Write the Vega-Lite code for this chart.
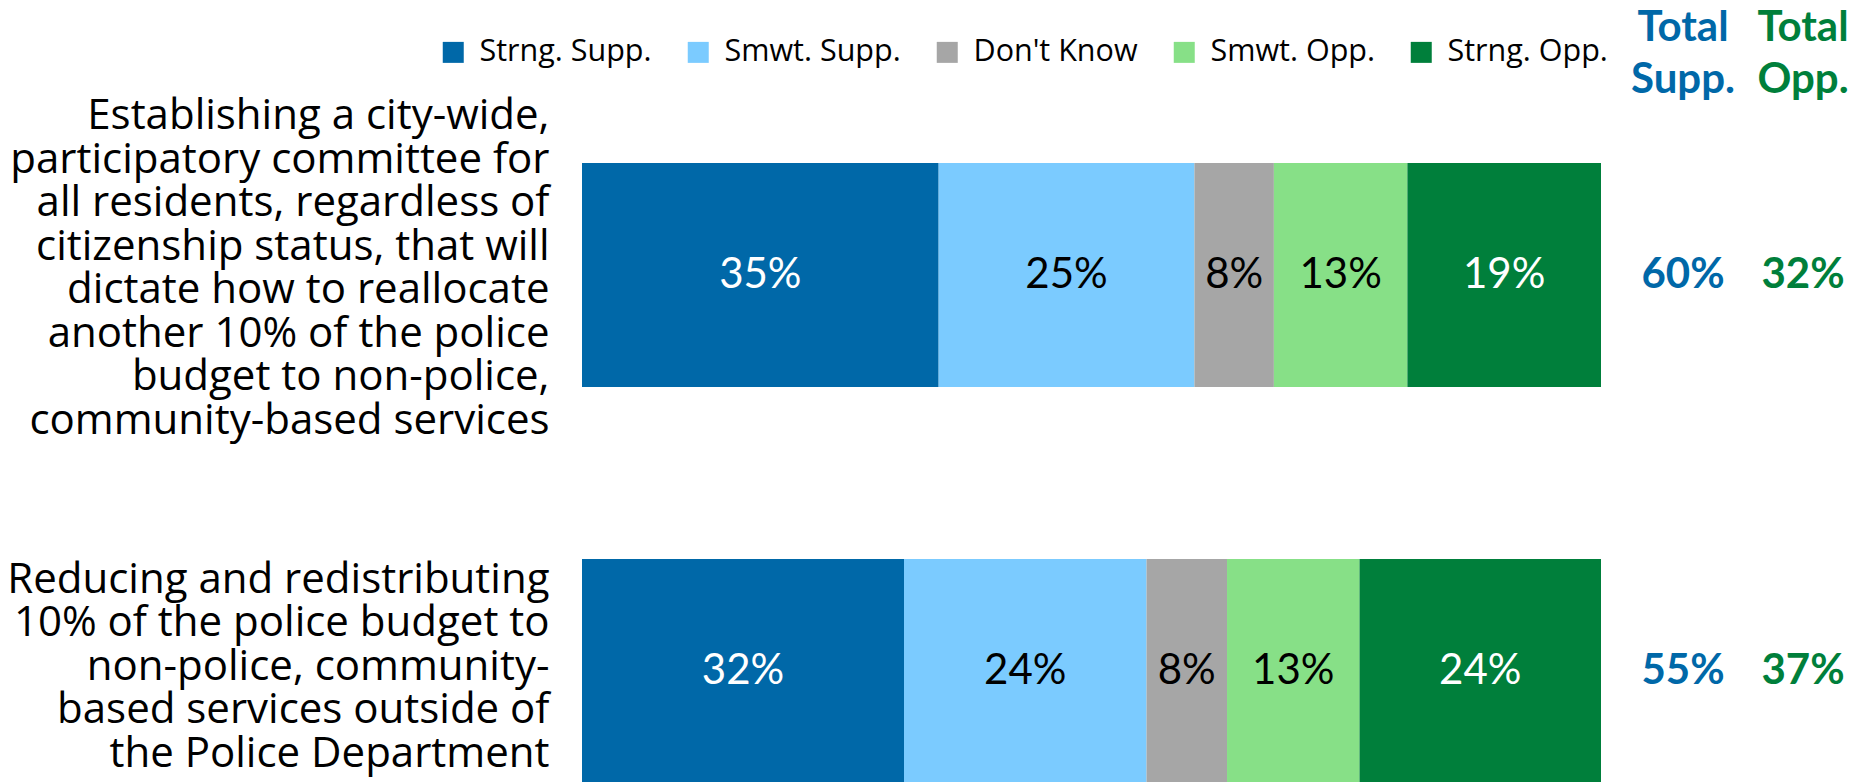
{
  "$schema": "https://vega.github.io/schema/vega-lite/v6.json",
  "padding": {"left": 6, "top": 6, "right": 0, "bottom": 0},
  "background": "white",
  "bounds": "flush",
  "spacing": 22,
  "config": {
    "view": {"stroke": null},
    "font": "Lato",
    "axis": {"grid": false, "domain": false, "ticks": false}
  },
  "resolve": {"scale": {"x": "independent", "y": "independent"}},
  "datasets": {
    "responses": [
      {"question": "Establishing a city-wide,|participatory committee for|all residents, regardless of|citizenship status, that will|dictate how to reallocate|another 10% of the police|budget to non-police,|community-based services", "response": "Strng. Supp.", "order": 1, "value": 35.0, "label": "35%"},
      {"question": "Establishing a city-wide,|participatory committee for|all residents, regardless of|citizenship status, that will|dictate how to reallocate|another 10% of the police|budget to non-police,|community-based services", "response": "Smwt. Supp.", "order": 2, "value": 25.1, "label": "25%"},
      {"question": "Establishing a city-wide,|participatory committee for|all residents, regardless of|citizenship status, that will|dictate how to reallocate|another 10% of the police|budget to non-police,|community-based services", "response": "Don't Know", "order": 3, "value": 7.8, "label": "8%"},
      {"question": "Establishing a city-wide,|participatory committee for|all residents, regardless of|citizenship status, that will|dictate how to reallocate|another 10% of the police|budget to non-police,|community-based services", "response": "Smwt. Opp.", "order": 4, "value": 13.1, "label": "13%"},
      {"question": "Establishing a city-wide,|participatory committee for|all residents, regardless of|citizenship status, that will|dictate how to reallocate|another 10% of the police|budget to non-police,|community-based services", "response": "Strng. Opp.", "order": 5, "value": 19.0, "label": "19%"},
      {"question": "Reducing and redistributing|10% of the police budget to|non-police, community-|based services outside of|the Police Department", "response": "Strng. Supp.", "order": 1, "value": 31.6, "label": "32%"},
      {"question": "Reducing and redistributing|10% of the police budget to|non-police, community-|based services outside of|the Police Department", "response": "Smwt. Supp.", "order": 2, "value": 23.8, "label": "24%"},
      {"question": "Reducing and redistributing|10% of the police budget to|non-police, community-|based services outside of|the Police Department", "response": "Don't Know", "order": 3, "value": 7.9, "label": "8%"},
      {"question": "Reducing and redistributing|10% of the police budget to|non-police, community-|based services outside of|the Police Department", "response": "Smwt. Opp.", "order": 4, "value": 13.0, "label": "13%"},
      {"question": "Reducing and redistributing|10% of the police budget to|non-police, community-|based services outside of|the Police Department", "response": "Strng. Opp.", "order": 5, "value": 23.7, "label": "24%"}
    ],
    "totals": [
      {"question": "Establishing a city-wide,|participatory committee for|all residents, regardless of|citizenship status, that will|dictate how to reallocate|another 10% of the police|budget to non-police,|community-based services", "measure": "Total Supp.", "label": "60%"},
      {"question": "Establishing a city-wide,|participatory committee for|all residents, regardless of|citizenship status, that will|dictate how to reallocate|another 10% of the police|budget to non-police,|community-based services", "measure": "Total Opp.", "label": "32%"},
      {"question": "Reducing and redistributing|10% of the police budget to|non-police, community-|based services outside of|the Police Department", "measure": "Total Supp.", "label": "55%"},
      {"question": "Reducing and redistributing|10% of the police budget to|non-police, community-|based services outside of|the Police Department", "measure": "Total Opp.", "label": "37%"}
    ]
  },
  "hconcat": [
    {
      "width": 1019,
      "height": 672,
      "data": {"name": "responses"},
      "transform": [
        {"stack": "value", "groupby": ["question"], "sort": [{"field": "order", "order": "ascending"}], "as": ["v0", "v1"]}
      ],
      "encoding": {
        "y": {
          "field": "question",
          "type": "nominal",
          "sort": null,
          "scale": {"type": "band", "paddingInner": 0.434, "paddingOuter": 0.0657, "align": 1},
          "axis": {
            "title": null,
            "labelExpr": "split(datum.label, '|')",
            "labelFont": "Open Sans",
            "labelFontSize": 42,
            "labelLineHeight": 43.5,
            "labelLimit": 0,
            "labelPadding": 33,
            "labelColor": "black",
            "labelAlign": "right",
            "labelBaseline": "middle",
            "labelOverlap": false,
            "labelOffset": {"condition": {"test": "indexof(datum.value, 'Establishing') == 0", "value": -159}, "value": -91}
          }
        }
      },
      "layer": [
        {
          "mark": {"type": "bar"},
          "encoding": {
            "x": {"field": "v0", "type": "quantitative", "scale": {"domain": [0, 100], "nice": false, "zero": true}, "axis": null},
            "x2": {"field": "v1"},
            "color": {
              "field": "response",
              "type": "nominal",
              "scale": {
                "domain": ["Strng. Supp.", "Smwt. Supp.", "Don't Know", "Smwt. Opp.", "Strng. Opp."],
                "range": ["#0068A8", "#7BCBFF", "#A6A6A6", "#87E087", "#007F3B"]
              },
              "legend": {
                "orient": "none",
                "legendX": -144,
                "legendY": -74,
                "direction": "horizontal",
                "columns": 5,
                "title": null,
                "symbolType": "square",
                "symbolSize": 441,
                "symbolStrokeWidth": 0,
                "symbolOpacity": 1,
                "labelFont": "Open Sans",
                "labelFontSize": 30.5,
                "labelOffset": 11,
                "columnPadding": 31,
                "labelColor": "black",
                "padding": 0,
                "labelLimit": 0
              }
            }
          }
        },
        {
          "transform": [{"fold": ["v0", "v1"], "as": ["edge", "pos"]}],
          "mark": {"type": "text", "fontSize": 42, "baseline": "middle", "align": "center"},
          "encoding": {
            "x": {"aggregate": "mean", "field": "pos", "type": "quantitative"},
            "text": {"field": "label", "type": "nominal"},
            "detail": {"field": "response", "type": "nominal"},
            "color": {
              "condition": {"test": "datum.response == 'Strng. Supp.' || datum.response == 'Strng. Opp.'", "value": "white"},
              "value": "black"
            }
          }
        }
      ]
    },
    {
      "width": 240,
      "height": 672,
      "data": {"name": "totals"},
      "mark": {"type": "text", "fontSize": 42, "fontWeight": "bold", "baseline": "middle", "align": "center"},
      "encoding": {
        "x": {
          "field": "measure",
          "type": "nominal",
          "sort": null,
          "scale": {"type": "band", "paddingInner": 0, "paddingOuter": 0},
          "axis": {
            "orient": "top",
            "title": null,
            "labelAngle": 0,
            "labelExpr": "split(datum.label, ' ')",
            "labelFontSize": 42,
            "labelFontWeight": "bold",
            "labelLineHeight": 52,
            "labelPadding": 71,
            "labelBaseline": "alphabetic",
            "labelOverlap": false,
            "labelLimit": 0,
            "labelColor": {"condition": {"test": "datum.value == 'Total Supp.'", "value": "#0068A8"}, "value": "#007F3B"}
          }
        },
        "y": {
          "field": "question",
          "type": "nominal",
          "sort": null,
          "scale": {"type": "band", "paddingInner": 0.434, "paddingOuter": 0.0657, "align": 1},
          "axis": null
        },
        "text": {"field": "label", "type": "nominal"},
        "color": {
          "condition": {"test": "datum.measure == 'Total Supp.'", "value": "#0068A8"},
          "value": "#007F3B"
        }
      }
    }
  ]
}
